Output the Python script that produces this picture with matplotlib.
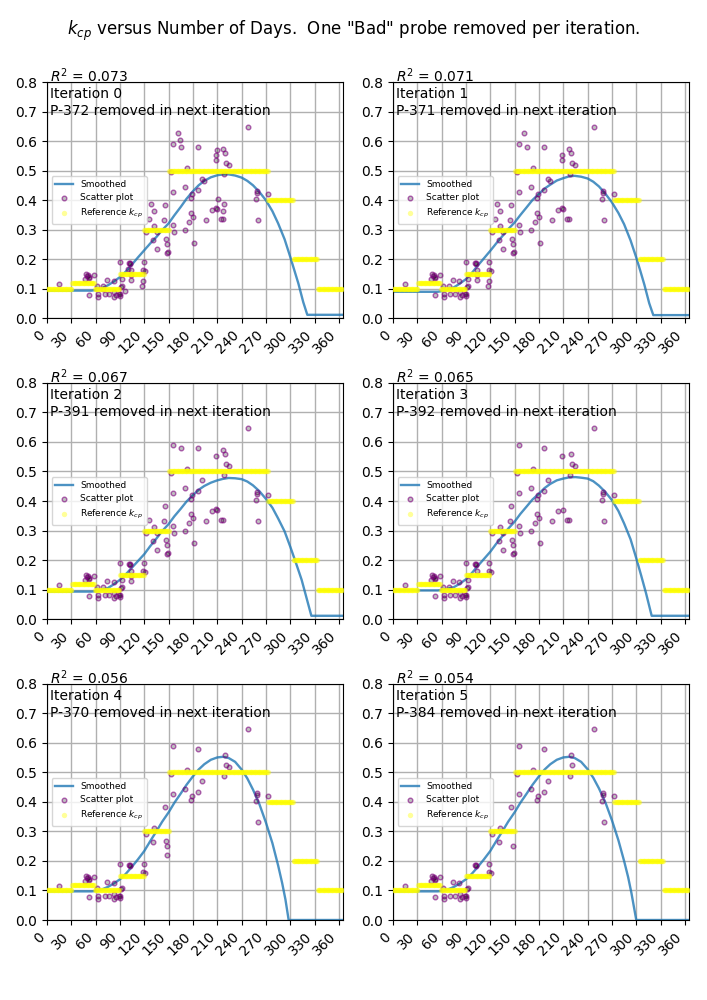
import numpy as np
import matplotlib
matplotlib.use("Agg")
import matplotlib.pyplot as plt

# ---------------- data ----------------
iterations = [0, 1, 2, 3, 4, 5]
r2_values = [0.073, 0.071, 0.067, 0.065, 0.056, 0.054]
removed_probe = ["P-372", "P-371", "P-391", "P-392", "P-370", "P-384"]

# reference k_cp per month
month_days = [31, 28, 31, 30, 31, 30, 31, 31, 30, 31, 30, 31]
month_kcp = [0.10, 0.12, 0.10, 0.15, 0.30, 0.50, 0.50, 0.50, 0.50, 0.40, 0.20, 0.10]

# probes kept through all shown iterations
others_days = [15.2, 47.0, 48.2, 49.4, 50.5, 51.5, 52.0, 58.5, 61.4, 52.3, 62.6, 62.6,
               70.9, 73.8, 76.2, 82.0, 83.2, 84.5, 83.2, 88.2, 90.2, 89.5, 91.5, 92.3,
               101.0, 101.8, 102.5, 119.0, 118.0, 121.0, 122.4, 131.8, 130.6, 145.0,
               147.5, 155.3, 155.3, 153.3, 172.6, 169.8, 178.8, 177.2, 186.2, 186.2,
               191.2, 219.2, 221.3, 218.4, 248.0, 258.8, 259.2, 257.5, 272.0, 260.4]
others_kcp = [0.115, 0.132, 0.149, 0.141, 0.146, 0.140, 0.135, 0.145, 0.109, 0.079, 0.081, 0.072,
              0.081, 0.128, 0.083, 0.124, 0.087, 0.079, 0.072, 0.083, 0.075, 0.080, 0.104, 0.109,
              0.185, 0.188, 0.183, 0.190, 0.163, 0.160, 0.290, 0.312, 0.264, 0.383,
              0.252, 0.590, 0.427, 0.496, 0.509, 0.445, 0.421, 0.406, 0.579, 0.434,
              0.472, 0.560, 0.526, 0.487, 0.647, 0.430, 0.424, 0.404, 0.421, 0.332]

p370_days = [90.6, 146.3, 148.0, 224.6]
p370_kcp = [0.190, 0.267, 0.219, 0.518]

p392_days = [68.8, 92.3, 103.0, 136.0, 135.6, 144.2, 149.0, 155.3, 156.6, 169.8, 175.1,
             178.0, 180.0, 181.3, 196.1, 203.5, 209.7, 214.3, 217.0, 208.0]
p392_kcp = [0.110, 0.133, 0.164, 0.292, 0.234, 0.332, 0.223, 0.315, 0.292, 0.298, 0.327,
            0.355, 0.343, 0.256, 0.332, 0.366, 0.371, 0.335, 0.335, 0.551]

p391_days = [125.7, 164.8, 216.7, 209.0, 103.0, 104.0]
p391_kcp = [0.337, 0.580, 0.574, 0.372, 0.147, 0.128]

p371_days = [161.5, 209.0, 193.3, 127.7, 131.8, 117.0, 118.0]
p371_kcp = [0.626, 0.535, 0.463, 0.386, 0.363, 0.109, 0.126]

p372_days = [163.6, 209.7, 210.5, 217.9, 216.6, 99.5, 96.0, 69.0]
p372_kcp = [0.605, 0.568, 0.402, 0.387, 0.364, 0.165, 0.090, 0.100]

# smoothed curves
smooth_days_0 = [0, 55, 62, 68, 75, 82, 90, 97, 104, 112, 120, 127, 135, 142, 150, 157, 165, 172,
                 180, 187, 194, 202, 210, 217, 224, 232, 240, 247, 254, 262, 270, 278, 285, 293,
                 300, 305, 310, 316, 321, 365]
smooth_kcp_0 = [.093, .093, .096, .101, .111, .123, .139, .157, .179, .205, .230, .252, .275, .298,
                .321, .348, .377, .404, .430, .450, .465, .477, .484, .487, .487, .483, .476, .465,
                .450, .427, .399, .362, .321, .267, .207, .162, .117, .054, .011, .011]
smooth_days_1 = [0, 55, 62, 68, 75, 82, 90, 97, 104, 112, 120, 127, 135, 142, 150, 157, 165, 172,
                 180, 187, 194, 202, 210, 217, 224, 232, 240, 247, 254, 262, 270, 278, 285, 293,
                 300, 305, 310, 316, 321, 365]
smooth_kcp_1 = [.089, .089, .092, .097, .104, .116, .132, .152, .176, .202, .228, .252, .278, .301,
                .324, .349, .376, .400, .421, .439, .452, .466, .474, .480, .482, .479, .473, .462,
                .446, .421, .392, .356, .318, .263, .205, .160, .113, .050, .010, .010]
smooth_days_2 = [0, 55, 62, 68, 75, 82, 90, 97, 104, 112, 120, 127, 135, 142, 150, 157, 165, 172,
                 180, 187, 194, 202, 210, 217, 224, 232, 240, 247, 254, 262, 270, 278, 285, 293,
                 300, 307, 314, 320, 326, 365]
smooth_kcp_2 = [.093, .093, .095, .099, .105, .117, .133, .151, .172, .196, .220, .246, .273, .298,
                .322, .348, .374, .398, .420, .438, .451, .462, .470, .475, .478, .477, .474, .466,
                .453, .433, .407, .377, .341, .297, .245, .190, .133, .072, .011, .011]
smooth_days_3 = [0, 55, 62, 68, 75, 82, 90, 97, 104, 112, 120, 127, 135, 142, 150, 157, 165, 172,
                 180, 187, 194, 202, 210, 217, 225, 232, 240, 247, 254, 262, 270, 278, 285, 293,
                 300, 306, 312, 319, 365]
smooth_kcp_3 = [.097, .097, .099, .103, .108, .119, .135, .155, .178, .203, .228, .254, .281, .306,
                .330, .356, .382, .405, .425, .444, .458, .470, .476, .480, .481, .479, .476, .467,
                .452, .430, .403, .366, .324, .270, .206, .148, .088, .011, .011]
smooth_days_4 = [0, 55, 62, 68, 75, 82, 90, 97, 104, 112, 120, 127, 135, 142, 150, 157, 165, 172,
                 180, 187, 194, 202, 210, 217, 224, 232, 240, 247, 254, 262, 270, 278, 285, 290,
                 294, 298, 365]
smooth_kcp_4 = [.097, .097, .099, .104, .112, .123, .138, .156, .178, .205, .234, .266, .301, .333,
                .365, .397, .429, .458, .487, .510, .528, .543, .551, .553, .549, .536, .510, .480,
                .442, .392, .330, .260, .185, .125, .070, .000, .000]
smooth_days_5 = [0, 55, 62, 68, 75, 82, 90, 97, 104, 112, 120, 127, 135, 142, 150, 157, 165, 172,
                 180, 187, 194, 202, 210, 217, 224, 232, 240, 247, 254, 262, 270, 278, 285, 290,
                 294, 300, 365]
smooth_kcp_5 = [.097, .097, .099, .104, .112, .123, .138, .156, .178, .205, .234, .266, .301, .333,
                .365, .397, .429, .458, .487, .510, .528, .543, .551, .553, .549, .536, .511, .482,
                .446, .398, .338, .270, .200, .145, .092, .000, .000]

x_ticks = list(range(0, 361, 30))
y_ticks = [0.0, 0.1, 0.2, 0.3, 0.4, 0.5, 0.6, 0.7, 0.8]

# ---------------- assemble ----------------
probe_days = {"others": others_days, "P-370": p370_days, "P-392": p392_days,
              "P-391": p391_days, "P-371": p371_days, "P-372": p372_days}
probe_kcp = {"others": others_kcp, "P-370": p370_kcp, "P-392": p392_kcp,
             "P-391": p391_kcp, "P-371": p371_kcp, "P-372": p372_kcp}
smooth_days = [smooth_days_0, smooth_days_1, smooth_days_2, smooth_days_3, smooth_days_4, smooth_days_5]
smooth_kcp = [smooth_kcp_0, smooth_kcp_1, smooth_kcp_2, smooth_kcp_3, smooth_kcp_4, smooth_kcp_5]

ref_days = np.arange(0, 365)
ref_kcp = np.repeat(month_kcp, month_days)

fig, axes = plt.subplots(3, 2, figsize=(7.07, 10), dpi=100)
fig.subplots_adjust(left=0.0665, right=0.9745, top=0.918, bottom=0.080,
                    wspace=0.169, hspace=0.275)
fig.suptitle(r'$k_{cp}$ versus Number of Days.  One "Bad" probe removed per iteration.',
             fontsize=12, y=0.981)

for i, ax in enumerate(axes.flat):
    removed_before = removed_probe[:i]
    xs, ys = [], []
    for name in probe_days:
        if name in removed_before:
            continue
        xs += probe_days[name]
        ys += probe_kcp[name]
    ax.plot(smooth_days[i], smooth_kcp[i], color="C0", alpha=0.8, lw=1.7, label="Smoothed", zorder=2)
    ax.scatter(xs, ys, s=11, facecolor=(0, 0, 0, 0.25), edgecolor=(0.5, 0, 0.5, 0.6),
               linewidth=1.0, label="Scatter plot", zorder=3)
    ax.scatter(ref_days, ref_kcp, s=15, color="yellow", alpha=0.4, label=r"Reference $k_{cp}$",
               zorder=4, linewidths=0)
    ax.set_xlim(0, 365)
    ax.set_ylim(0, 0.8)
    ax.set_xticks(x_ticks)
    ax.set_yticks(y_ticks)
    ax.set_xticklabels([str(t) for t in x_ticks], rotation=45, ha="right")
    ax.grid(True, color="#b0b0b0", lw=1.0)
    ax.set_axisbelow(True)
    ax.text(0.01, 1.065, f"$R^2$ = {r2_values[i]:.3f}\nIteration {iterations[i]}\n"
            f"{removed_probe[i]} removed in next iteration",
            transform=ax.transAxes, va="top", ha="left", fontsize=10)
    ax.legend(loc="center left", fontsize=6.5)

fig.savefig("out.png", dpi=100)
